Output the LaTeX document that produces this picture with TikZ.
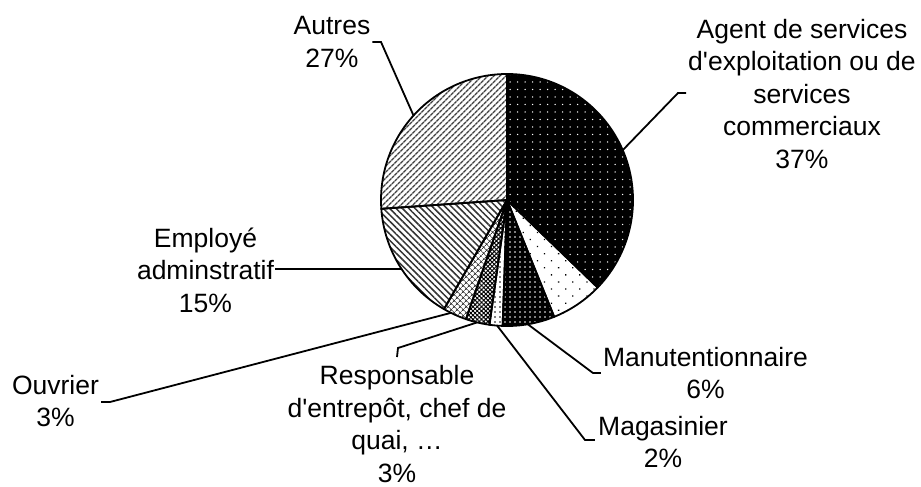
\documentclass[tikz,border=0pt]{standalone}
\usepackage{fontspec}
\setmainfont{Liberation Sans}[Ligatures=TeXOff]
\usetikzlibrary{patterns.meta}
\tikzset{
  slice/.style={draw=black, line width=1.8pt, line join=round},
  leader/.style={draw=black, line width=1.8pt, line join=miter},
  lab/.style={align=center, inner sep=0pt, font=\fontsize{26.5}{32.5}\selectfont},
}
\begin{document}
\begin{tikzpicture}[x=1pt, y=-1pt]
\useasboundingbox[fill=white] (0,0) rectangle (921,487);
\coordinate (C) at (507,200);
\def\R{126}

% slices, clockwise from the top (angles grow clockwise since y points down)
\fill[black] (C) -- ++(-90:\R) arc[start angle=-90, end angle=44, radius=\R] -- cycle;
\fill[pattern={Dots[distance=7.5pt, radius=0.75pt]}, pattern color=white]
  (C) -- ++(-90:\R) arc[start angle=-90, end angle=44, radius=\R] -- cycle;
\draw[slice] (C) -- ++(-90:\R) arc[start angle=-90, end angle=44, radius=\R] -- cycle;

\fill[pattern={Dots[distance=10pt, radius=0.9pt, angle=45]}, pattern color=black]
  (C) -- ++(44:\R) arc[start angle=44, end angle=68, radius=\R] -- cycle;
\draw[slice] (C) -- ++(44:\R) arc[start angle=44, end angle=68, radius=\R] -- cycle;

\fill[black] (C) -- ++(68:\R) arc[start angle=68, end angle=92, radius=\R] -- cycle;
\fill[pattern={Dots[distance=5pt, radius=0.9pt]}, pattern color=white]
  (C) -- ++(68:\R) arc[start angle=68, end angle=92, radius=\R] -- cycle;
\draw[slice] (C) -- ++(68:\R) arc[start angle=68, end angle=92, radius=\R] -- cycle;

\fill[pattern={Dots[distance=5pt, radius=0.8pt]}, pattern color=black]
  (C) -- ++(92:\R) arc[start angle=92, end angle=98, radius=\R] -- cycle;
\draw[slice] (C) -- ++(92:\R) arc[start angle=92, end angle=98, radius=\R] -- cycle;

\fill[pattern={Hatch[distance=3pt, angle=45, line width=1pt]}, pattern color=black]
  (C) -- ++(98:\R) arc[start angle=98, end angle=109, radius=\R] -- cycle;
\draw[slice] (C) -- ++(98:\R) arc[start angle=98, end angle=109, radius=\R] -- cycle;

\fill[pattern={Hatch[distance=4pt, angle=45, line width=0.7pt]}, pattern color=black!80]
  (C) -- ++(109:\R) arc[start angle=109, end angle=120, radius=\R] -- cycle;
\draw[slice] (C) -- ++(109:\R) arc[start angle=109, end angle=120, radius=\R] -- cycle;

\fill[pattern={Lines[distance=4.5pt, angle=-45, line width=1.5pt]}, pattern color=black!80]
  (C) -- ++(120:\R) arc[start angle=120, end angle=176, radius=\R] -- cycle;
\draw[slice] (C) -- ++(120:\R) arc[start angle=120, end angle=176, radius=\R] -- cycle;

\fill[pattern={Lines[distance=4pt, angle=45, line width=1.5pt]}, pattern color=black!75]
  (C) -- ++(176:\R) arc[start angle=176, end angle=270, radius=\R] -- cycle;
\draw[slice] (C) -- ++(176:\R) arc[start angle=176, end angle=270, radius=\R] -- cycle;

% labels
\node[lab] (agent) at (802,94) {Agent de services\\d'exploitation ou de\\services\\commerciaux\\37\%};
\node[lab] (autres) at (332,42) {Autres\\27\%};
\node[lab] (employe) at (205.5,270) {Employé\\adminstratif\\15\%};
\node[lab] (ouvrier) at (55.5,401) {Ouvrier\\3\%};
\node[lab] (resp) at (397,424) {Responsable\\d'entrepôt, chef de\\quai, …\\3\%};
\node[lab] (manut) at (705.5,373) {Manutentionnaire\\6\%};
\node[lab] (magas) at (663,442) {Magasinier\\2\%};

% anchor points on the rim and elbows of the leader lines
\coordinate (pAgent) at ([shift={(-23.3:\R)}]C);
\coordinate (pAutres) at ([shift={(-137.9:\R)}]C);
\coordinate (pEmploye) at ([shift={(146.8:\R)}]C);
\coordinate (pOuvrier) at ([shift={(116.4:\R)}]C);
\coordinate (pResp) at ([shift={(103.7:\R)}]C);
\coordinate (pManut) at ([shift={(80.5:\R)}]C);
\coordinate (pMagas) at ([shift={(94.5:\R)}]C);

\coordinate (eAgent) at (678,93);
\coordinate (eAutres) at (381,42);
\coordinate (eOuvrier) at (110,402);
\coordinate (eResp) at (398,348);
\coordinate (tResp) at (397,357);
\coordinate (eManut) at (593,373);
\coordinate (eMagas) at (585,440);

\draw[leader] (pAgent) -- (eAgent) -- ([xshift=-2pt]agent.west |- eAgent);
\draw[leader] (pAutres) -- (eAutres) -- ([xshift=2pt]autres.east |- eAutres);
\draw[leader] ([xshift=1pt]employe.east |- pEmploye) -- (pEmploye);
\draw[leader] (pOuvrier) -- (eOuvrier) -- ([xshift=2pt]ouvrier.east |- eOuvrier);
\draw[leader] (pResp) -- (eResp) -- (tResp);
\draw[leader] (pManut) -- (eManut) -- ([xshift=-2pt]manut.west |- eManut);
\draw[leader] (pMagas) -- (eMagas) -- ([xshift=-3pt]magas.west |- eMagas);
\end{tikzpicture}
\end{document}
